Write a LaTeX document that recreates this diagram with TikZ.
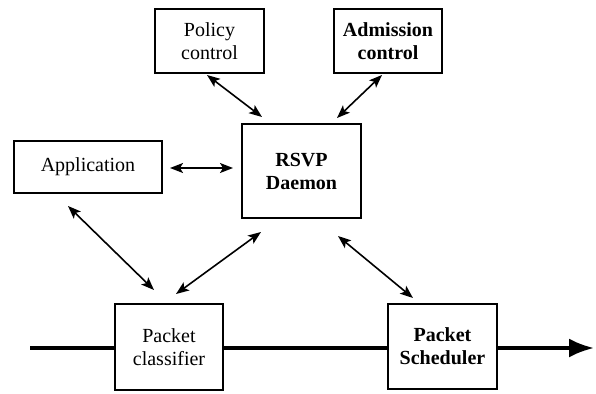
\documentclass[tikz,border=0pt]{standalone}
\usepackage{fontspec}
\setmainfont{Liberation Serif}
\usetikzlibrary{arrows.meta}
\begin{document}
\begin{tikzpicture}[x=1pt,y=-1pt,
  box/.style={draw, line width=1.5pt, inner sep=0pt, align=center,
    font=\fontsize{20}{23}\selectfont},
  bbox/.style={box, font=\fontsize{20}{23}\selectfont\bfseries},
  link/.style={line width=1.6pt, {Stealth[length=13pt,width=10pt,inset=3pt]}-{Stealth[length=13pt,width=10pt,inset=3pt]}},
  flow/.style={line width=3.5pt}]
\useasboundingbox (0,0) rectangle (596,393);
\node[box, minimum width=109pt, minimum height=64pt] (pol) at (209.5,41) {Policy\\control};
\node[bbox, minimum width=108pt, minimum height=64pt] (adm) at (388,41) {Admission\\control};
\node[box, minimum width=148pt, minimum height=52pt] (app) at (88,167) {Application};
\node[bbox, minimum width=119pt, minimum height=94pt] (rsvp) at (301.5,171) {RSVP\\Daemon};
\node[box, minimum width=108pt, minimum height=86pt] (cls) at (169,347) {Packet\\classifier};
\node[bbox, minimum width=109pt, minimum height=85pt] (sch) at (442.5,346.5) {Packet\\Scheduler};
% arrow endpoints
\coordinate (p1) at (207,75); \coordinate (p2) at (262,117);
\coordinate (a1) at (382,75); \coordinate (a2) at (337,118);
\coordinate (ap1) at (170,168); \coordinate (ap2) at (233,168);
\coordinate (c1) at (68,206); \coordinate (c2) at (154,290);
\coordinate (r1) at (261,232); \coordinate (r2) at (176,294);
\coordinate (s1) at (338,236); \coordinate (s2) at (413,298);
\coordinate (in) at (30,348); \coordinate (out) at (594,348);
\draw[link] (p1) -- (p2);
\draw[link] (a1) -- (a2);
\draw[link] (ap1) -- (ap2);
\draw[link] (c1) -- (c2);
\draw[link] (r1) -- (r2);
\draw[link] (s1) -- (s2);
\draw[flow] (in) -- (cls.west |- in);
\draw[flow] (cls.east |- in) -- (sch.west |- in);
\draw[flow, -{Latex[length=25pt,width=19pt]}] (sch.east |- in) -- (out);
\end{tikzpicture}
\end{document}
